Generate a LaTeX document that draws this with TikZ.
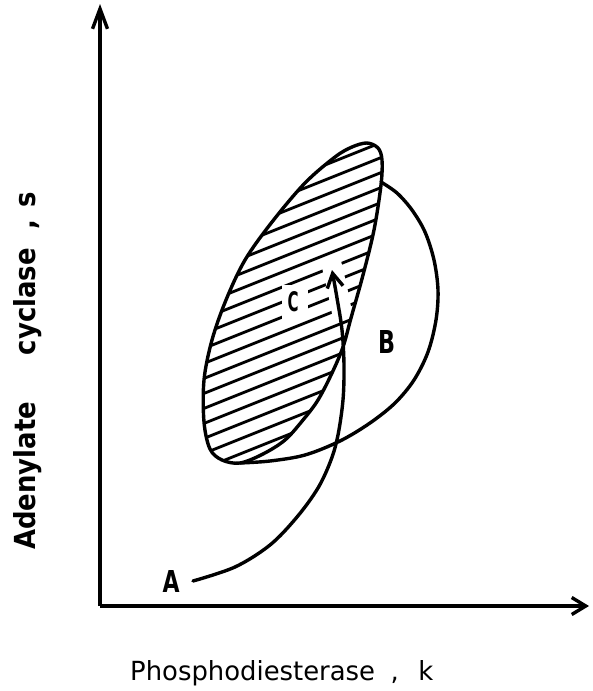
\documentclass[tikz,border=0pt]{standalone}
\usepackage{fontspec}
\usepackage{graphicx}
\newfontfamily\plotfont{DejaVu Sans}
\usetikzlibrary{arrows.meta}
\tikzset{
  curve/.style={line width=3.4pt, line cap=round, line join=round},
  hatchline/.style={line width=2.8pt, line cap=round},
  axis/.style={line width=3.4pt},
  lbl/.style={inner sep=0pt, font=\plotfont},
}
\begin{document}
\begin{tikzpicture}[x=1pt,y=-1pt]
\useasboundingbox (0,0) rectangle (592,691);
% axes
\coordinate (O) at (100,606);
\coordinate (Ytop) at (100,4);
\coordinate (Xend) at (589,606);
\draw[axis, -{Straight Barb[length=20pt,width=15pt]}] (O) -- (Ytop);
\draw[axis, -{Straight Barb[length=14pt,width=17pt]}] (O) -- (Xend);
% hatching of region C
\begin{scope}
\clip plot[smooth cycle, tension=0.55] coordinates {(367,143) (378,148) (382,160) (381,185) (374,230) (363,275) (351,318) (343,347) (332,373) (318,400) (303,420) (285,440) (263,454) (240,463) (222,460) (210,449) (204,422) (204,380) (212,340) (226,300) (245,260) (272,222) (305,183) (335,157) (352,147)};
\foreach \k in {0,...,17}{
  \draw[hatchline] (185,{221+15*\k}) -- (400,{135+15*\k});
}
\draw[white, line width=20pt] (343,318) .. controls (338,292) .. (331,262);
\end{scope}
\node[lbl, fill=white, minimum width=26pt, minimum height=34pt] (Cbox) at (295,302) {};
% outlines
\draw[curve] plot[smooth cycle, tension=0.55] coordinates {(367,143) (378,148) (382,160) (381,185) (374,230) (363,275) (351,318) (343,347) (332,373) (318,400) (303,420) (285,440) (263,454) (240,463) (222,460) (210,449) (204,422) (204,380) (212,340) (226,300) (245,260) (272,222) (305,183) (335,157) (352,147)};
\coordinate (Bstart) at (381,182);
\coordinate (Bend) at (240,463);
\draw[curve] plot[smooth, tension=0.55] coordinates {(Bstart) (397,193) (412,210) (425,232) (434,260) (438,290) (436,320) (428,352) (414,380) (395,403) (370,423) (340,441) (305,455) (270,461) (Bend)};
% trajectory from A into C
\coordinate (Astart) at (193,581);
\coordinate (Ctip) at (332,270);
\draw[curve, -{Straight Barb[length=14pt,width=16pt]}] plot[smooth, tension=0.55] coordinates {(Astart) (235,567) (270,545) (297,517) (318,488) (331,460) (338,435) (343,400) (344,365) (342,330) (337,298) (Ctip)};
% labels
\node[lbl] (A) at (171,581) {\resizebox{17pt}{22pt}{\bfseries A}};
\node[lbl] (B) at (387,342) {\resizebox{17pt}{23pt}{\bfseries B}};
\node[lbl] (C) at (293,302) {\resizebox{11pt}{20pt}{\bfseries C}};
\node[lbl, anchor=base west] (xlabel) at (130,680) {\resizebox{303pt}{20pt}{Phosphodiesterase\hspace{0.6em},\hspace{0.75em}k}};
\node[lbl, anchor=base west, rotate=90] (ylabel) at (35,550) {\resizebox{358pt}{22pt}{\bfseries Adenylate\hspace{1.8em}cyclase\hspace{0.7em},\hspace{0.5em}s}};
\end{tikzpicture}
\end{document}
